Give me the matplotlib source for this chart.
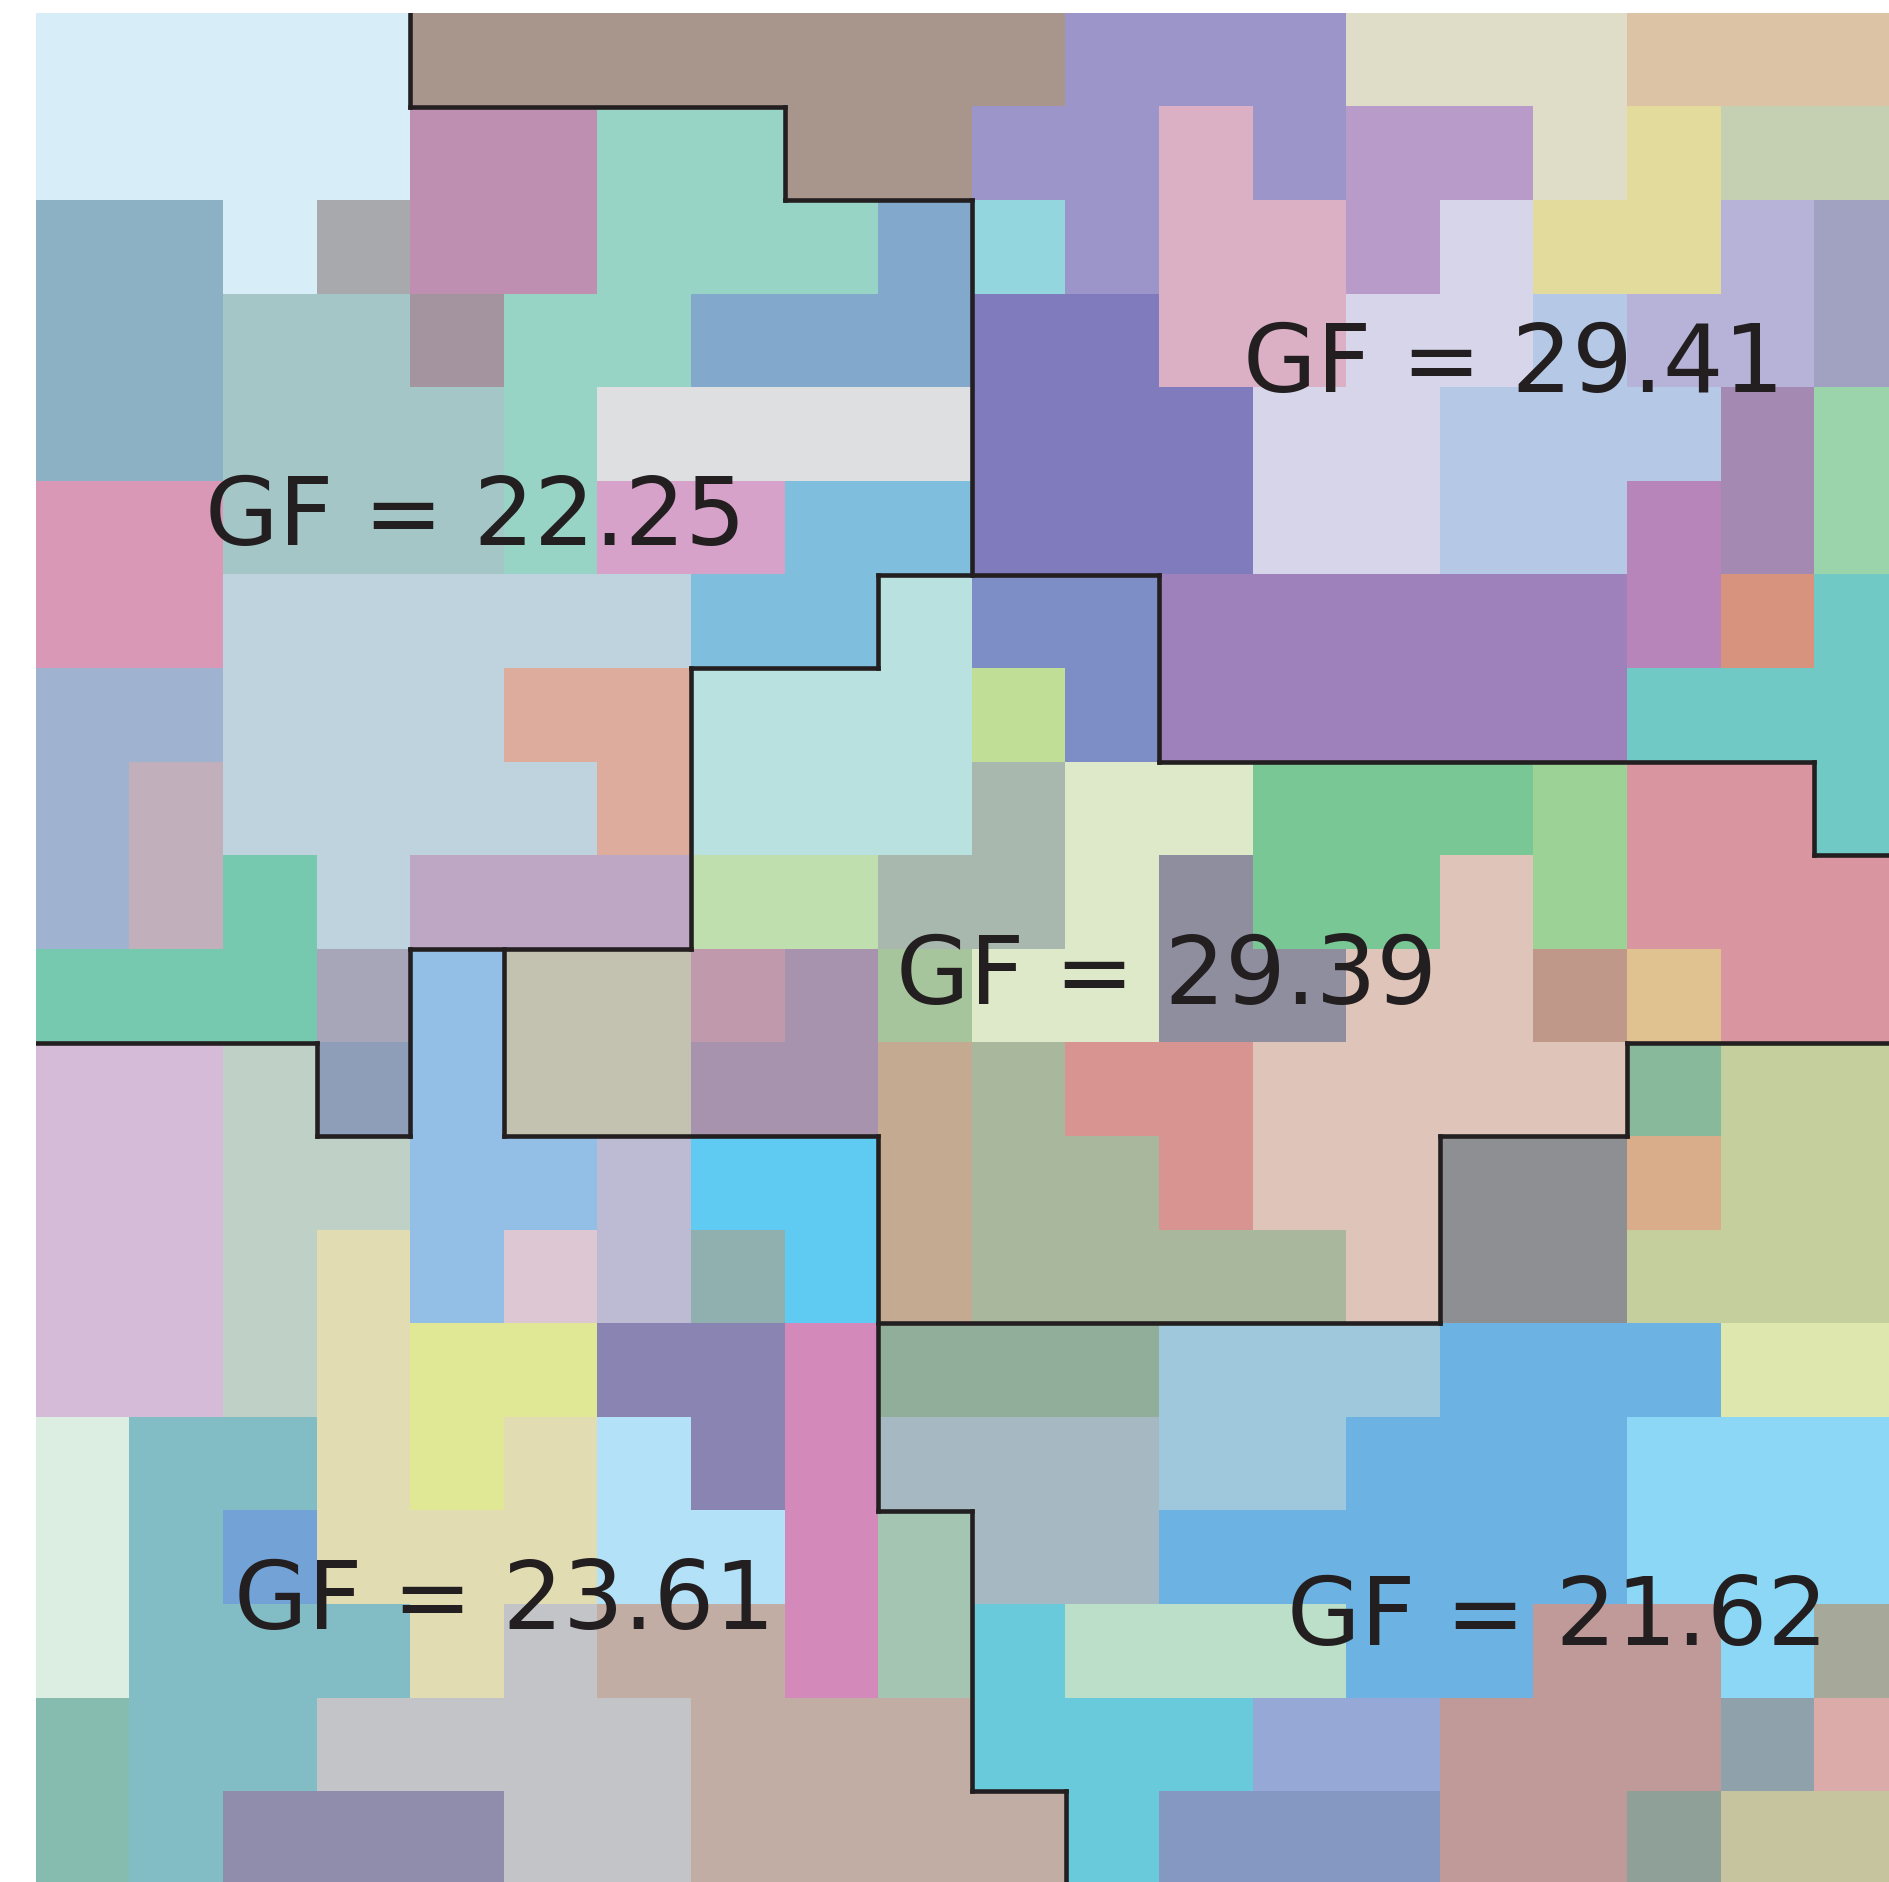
import numpy as np
import matplotlib
matplotlib.use("Agg")
import matplotlib.pyplot as plt
from matplotlib.colors import to_rgb
from matplotlib.collections import LineCollection

# colour of every unit (polyomino) on the 20x20 grid
palette = {
    "LB": "#d7eef9", "BR": "#a8958c", "PB": "#9b95c9", "BG": "#dfdcc8", "TN": "#dcc3a6",
    "MV": "#bf8fb2", "MT": "#98d4c6", "PK": "#dbb0c5", "LL": "#b89bc8", "YL": "#e3db9b",
    "SG": "#c4d0b1", "SB": "#8cb0c4", "GY": "#a8a9ad", "BL": "#82a8cc", "CY": "#94d6dd",
    "LV": "#d7d5ea", "LA": "#b6b2d8", "GL": "#a1a1c2", "TG": "#a4c6c7", "GM": "#a4949f",
    "DL": "#807bbc", "LBB": "#b5c9e6", "LG": "#dedfe1", "MP": "#a48ab3", "GN": "#9bd3ab",
    "PN": "#d898b6", "PL": "#d6a2c9", "SK": "#7fbedd", "OR": "#b885bb", "GB": "#bed3de",
    "PC": "#b8e1e0", "PW": "#7d8dc6", "PU": "#9e80ba", "SA": "#d8937e", "TE": "#70c9c5",
    "BGY": "#9fb2cf", "SL": "#ddac9c", "LGN": "#c0de95", "MG": "#c1afbb", "GG": "#a8b8ae",
    "PG": "#dde9c8", "GR": "#79c795", "LGR": "#9dd296", "RS": "#d996a0", "GC": "#76c8ae",
    "ML": "#bea7c4", "LG2": "#bfdfae", "DG": "#8f8e9e", "PE": "#dfc4b9", "GP": "#a6a6b8",
    "LBL": "#93bfe6", "KG": "#c3c2b1", "MR": "#c199ad", "MPR": "#a893ae", "SGG": "#a7c59c",
    "BRR": "#c0988a", "GD": "#e0c291", "LP": "#d6bbd8", "GGR": "#bfd1c6", "BGR": "#8e9eb8",
    "TAN": "#c4aa90", "SGE": "#a9b79c", "RR": "#d79491", "GGN": "#89b99b", "KH": "#c5ce9d",
    "LGB": "#bdbbd3", "BS": "#5fcaf2", "GYD": "#8e8f93", "TO": "#daad8a", "CR": "#e1dcb2",
    "PP": "#dcc7d2", "GT": "#8fb0af", "YG": "#e0e795", "PGY": "#8984b2", "PNK": "#d38aba",
    "GGA": "#90ae9a", "LSB": "#a0c8dc", "MB": "#6cb3e3", "PY": "#dee8ae", "PM": "#dcede1",
    "TB": "#82bcc5", "LS": "#b3e1f7", "GBL": "#a6b9c2", "LS2": "#8cd7f5", "BLU": "#72a2d6",
    "LGG": "#a4c5b2", "GYL": "#c3c4c8", "RT": "#c2ada5", "CYN": "#68cadb", "MPL": "#bbdfc8",
    "RO": "#c09999", "GK": "#a6a899", "TGN": "#86bbaf", "PLB": "#96a9d6", "SGY": "#8fa2ab",
    "PRS": "#dbabaa", "PG2": "#8f8dab", "SLB": "#8598c1", "GGY": "#8fa098", "KH2": "#c6c39f",
}

cell_rows = [
    "LB LB LB LB BR BR BR BR BR BR BR PB PB PB BG BG BG TN TN TN",
    "LB LB LB LB MV MV MT MT BR BR PB PB PK PB LL LL BG YL SG SG",
    "SB SB LB GY MV MV MT MT MT BL CY PB PK PK LL LV YL YL LA GL",
    "SB SB TG TG GM MT MT BL BL BL DL DL PK PK LV LV LBB LA LA GL",
    "SB SB TG TG TG MT LG LG LG LG DL DL DL LV LV LBB LBB LBB MP GN",
    "PN PN TG TG TG MT PL PL SK SK DL DL DL LV LV LBB LBB OR MP GN",
    "PN PN GB GB GB GB GB SK SK PC PW PW PU PU PU PU PU OR SA TE",
    "BGY BGY GB GB GB SL SL PC PC PC LGN PW PU PU PU PU PU TE TE TE",
    "BGY MG GB GB GB GB SL PC PC PC GG PG PG GR GR GR LGR RS RS TE",
    "BGY MG GC GB ML ML ML LG2 LG2 GG GG PG DG GR GR PE LGR RS RS RS",
    "GC GC GC GP LBL KG KG MR MPR SGG PG PG DG DG PE PE BRR GD RS RS",
    "LP LP GGR BGR LBL KG KG MPR MPR TAN SGE RR RR PE PE PE PE GGN KH KH",
    "LP LP GGR GGR LBL LBL LGB BS BS TAN SGE SGE RR PE PE GYD GYD TO KH KH",
    "LP LP GGR CR LBL PP LGB GT BS TAN SGE SGE SGE SGE PE GYD GYD KH KH KH",
    "LP LP GGR CR YG YG PGY PGY PNK GGA GGA GGA LSB LSB LSB MB MB MB PY PY",
    "PM TB TB CR YG CR LS PGY PNK GBL GBL GBL LSB LSB MB MB MB LS2 LS2 LS2",
    "PM TB BLU CR CR CR LS LS PNK LGG GBL GBL MB MB MB MB MB LS2 LS2 LS2",
    "PM TB TB TB CR GYL RT RT PNK LGG CYN MPL MPL MPL MB MB RO RO LS2 GK",
    "TGN TB TB GYL GYL GYL GYL RT RT RT CYN CYN CYN PLB PLB RO RO RO SGY PRS",
    "TGN TB PG2 PG2 PG2 GYL GYL RT RT RT RT CYN SLB SLB SLB RO RO GGY KH2 KH2",
]

# district of every cell
district_rows = [
    "AAAABBBBBBBBBBBBBBBB",
    "AAAAAAAABBBBBBBBBBBB",
    "AAAAAAAAAABBBBBBBBBB",
    "AAAAAAAAAABBBBBBBBBB",
    "AAAAAAAAAABBBBBBBBBB",
    "AAAAAAAAAABBBBBBBBBB",
    "AAAAAAAAACCCBBBBBBBB",
    "AAAAAAACCCCCBBBBBBBB",
    "AAAAAAACCCCCCCCCCCCB",
    "AAAAAAACCCCCCCCCCCCC",
    "AAAADCCCCCCCCCCCCCCC",
    "DDDADCCCCCCCCCCCCEEE",
    "DDDDDDDDDCCCCCCEEEEE",
    "DDDDDDDDDCCCCCCEEEEE",
    "DDDDDDDDDEEEEEEEEEEE",
    "DDDDDDDDDEEEEEEEEEEE",
    "DDDDDDDDDDEEEEEEEEEE",
    "DDDDDDDDDDEEEEEEEEEE",
    "DDDDDDDDDDEEEEEEEEEE",
    "DDDDDDDDDDDEEEEEEEEE",
]

gf_values = [22.25, 29.41, 29.39, 23.61, 21.62]
label_x = [4.69, 15.79, 12.08, 5.01, 16.26]
label_y = [5.67, 4.04, 10.58, 17.25, 17.43]

grid = [r.split() for r in cell_rows]
img = np.array([[to_rgb(palette[k]) for k in row] for row in grid])
dist = np.array([list(r) for r in district_rows])
n_rows, n_cols = dist.shape

# figure: grid runs slightly off the right/bottom edge as in the original
W, H = 1889, 1883
cell = 93.6
fig = plt.figure(figsize=(W / 100, H / 100), dpi=100)
left, top = 36, 14
ax = fig.add_axes([left / W, (H - top - cell * n_rows) / H,
                   cell * n_cols / W, cell * n_rows / H])
ax.imshow(img, extent=(0, n_cols, n_rows, 0), interpolation="nearest")
ax.set_xlim(0, n_cols)
ax.set_ylim(n_rows, 0)
ax.axis("off")

# district borders, merged into straight runs
segs = []
for c in range(n_cols - 1):          # vertical edges at x = c+1
    start = None
    for r in range(n_rows + 1):
        edge = r < n_rows and dist[r, c] != dist[r, c + 1]
        if edge and start is None:
            start = r
        elif not edge and start is not None:
            segs.append([(c + 1, start), (c + 1, r)])
            start = None
for r in range(n_rows - 1):          # horizontal edges at y = r+1
    start = None
    for c in range(n_cols + 1):
        edge = c < n_cols and dist[r, c] != dist[r + 1, c]
        if edge and start is None:
            start = c
        elif not edge and start is not None:
            segs.append([(start, r + 1), (c, r + 1)])
            start = None
ax.add_collection(LineCollection(segs, colors="#231f20", linewidths=3.3,
                                 capstyle="projecting", zorder=3))

for x, y, v in zip(label_x, label_y, gf_values):
    ax.text(x, y, f"GF = {v:.2f}", ha="center", va="baseline",
            fontsize=68.5, color="#231f20", zorder=4)

fig.savefig("out.png", dpi=100)
